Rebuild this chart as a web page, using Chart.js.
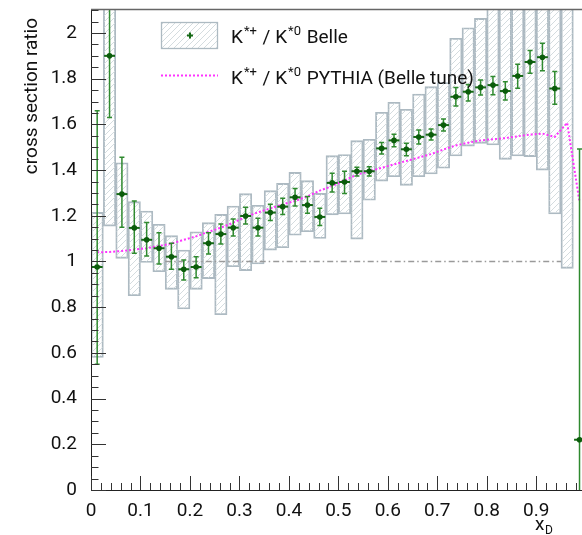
<!DOCTYPE html>
<html lang="en">
<head>
  <meta charset="UTF-8">
  <title>K*+ / K*0 cross section ratio</title>
  <script src="https://cdn.jsdelivr.net/npm/chart.js"></script>
  <style>
    html, body { margin: 0; padding: 0; background: #fff; }
    #ratioChart { display: block; }
  </style>
</head>
<body>
  <canvas id="ratioChart" width="582" height="535"></canvas>
  <script>
    // x_p bin centres (bin width 0.025)
    const binCenters = [0.0125, 0.0375, 0.0625, 0.0875, 0.1125, 0.1375, 0.1625, 0.1875, 0.2125, 0.2375,
                        0.2625, 0.2875, 0.3125, 0.3375, 0.3625, 0.3875, 0.4125, 0.4375, 0.4625, 0.4875,
                        0.5125, 0.5375, 0.5625, 0.5875, 0.6125, 0.6375, 0.6625, 0.6875, 0.7125, 0.7375,
                        0.7625, 0.7875, 0.8125, 0.8375, 0.8625, 0.8875, 0.9125, 0.9375, 0.9625, 0.9875];
    const xErr = 0.011;

    // Belle measured ratio and statistical error bar ends
    const ratio  = [0.976, 1.90, 1.295, 1.147, 1.095, 1.058, 1.021, 0.966, 0.976, 1.08,
                    1.12, 1.148, 1.199, 1.148, 1.214, 1.24, 1.281, 1.247, 1.195, 1.344,
                    1.348, 1.395, 1.395, 1.495, 1.53, 1.491, 1.545, 1.555, 1.597, 1.721,
                    1.743, 1.762, 1.772, 1.746, 1.812, 1.873, 1.894, 1.757, null, 0.22];
    const statLo = [0.55, 1.63, 1.15, 1.036, 1.024, 0.989, 0.966, 0.919, 0.929, 1.033,
                    1.077, 1.112, 1.164, 1.112, 1.179, 1.206, 1.243, 1.211, 1.158, 1.304,
                    1.298, 1.374, 1.374, 1.47, 1.502, 1.463, 1.514, 1.532, 1.571, 1.68,
                    1.702, 1.729, 1.73, 1.707, 1.758, 1.824, 1.835, 1.688, null, -0.1];
    const statHi = [1.66, 2.3, 1.456, 1.265, 1.171, 1.126, 1.08, 1.007, 1.021, 1.126,
                    1.164, 1.186, 1.237, 1.189, 1.25, 1.277, 1.319, 1.284, 1.233, 1.386,
                    1.395, 1.412, 1.415, 1.521, 1.557, 1.517, 1.575, 1.58, 1.624, 1.762,
                    1.775, 1.794, 1.81, 1.787, 1.863, 1.923, 1.955, 1.831, null, 1.492];

    // systematic boxes
    const boxLo = [0.58, 1.155, 1.014, 0.85, 0.996, 0.955, 0.878, 0.792, 0.878, 0.925,
                   0.767, 0.977, 0.96, 0.989, 1.05, 1.06, 1.115, 1.13, 1.101, 1.204,
                   1.208, 1.098, 1.268, 1.352, 1.371, 1.333, 1.371, 1.383, 1.408, 1.462,
                   1.505, 1.517, 1.51, 1.447, 1.462, 1.459, 1.40, 1.208, 0.97, null];
    const boxHi = [1.215, 2.3, 1.432, 1.262, 1.221, 1.163, 1.113, 1.05, 1.13, 1.17,
                   1.206, 1.243, 1.297, 1.246, 1.31, 1.342, 1.39, 1.354, 1.298, 1.463,
                   1.468, 1.529, 1.535, 1.653, 1.697, 1.666, 1.733, 1.765, 1.783, 1.977,
                   2.023, 2.064, 2.3, 2.3, 2.3, 2.3, 2.3, 2.3, 2.3, null];

    // PYTHIA (Belle tune) prediction at bin centres
    const pythia = [1.04, 1.042, 1.046, 1.052, 1.058, 1.068, 1.078, 1.095, 1.11, 1.13,
                    1.148, 1.17, 1.195, 1.215, 1.232, 1.25, 1.265, 1.285, 1.31, 1.33,
                    1.355, 1.38, 1.395, 1.41, 1.425, 1.44, 1.455, 1.47, 1.49, 1.508,
                    1.52, 1.53, 1.535, 1.54, 1.548, 1.555, 1.56, 1.545, 1.607, 1.26];

    // reference line at ratio = 1
    const unityX = [0.15, 0.95];
    const unityY = [1, 1];

    const xTicks = [0, 0.1, 0.2, 0.3, 0.4, 0.5, 0.6, 0.7, 0.8, 0.9];
    const yTicks = [0, 0.2, 0.4, 0.6, 0.8, 1, 1.2, 1.4, 1.6, 1.8, 2];

    const FONT = "Roboto, 'Liberation Sans', sans-serif";
    const BOX_BORDER = "#adbac2";

    function makeHatch() {
      const c = document.createElement("canvas");
      c.width = 6; c.height = 6;
      const g = c.getContext("2d");
      g.strokeStyle = "#d4dcdf";
      g.lineWidth = 1;
      g.beginPath();
      g.moveTo(0, 6); g.lineTo(6, 0);
      g.moveTo(-1, 1); g.lineTo(1, -1);
      g.moveTo(5, 7); g.lineTo(7, 5);
      g.stroke();
      return g.createPattern(c, "repeat");
    }
    const hatch = makeHatch();

    const pointData = [];
    binCenters.forEach((c, i) => { if (ratio[i] !== null) pointData.push({ x: c, y: ratio[i] }); });
    const boxData = [];
    binCenters.forEach((c, i) => { if (boxLo[i] !== null) boxData.push({ x: c, y: [boxLo[i], boxHi[i]] }); });
    const pythiaData = binCenters.map((c, i) => ({ x: c, y: pythia[i] }));
    const unityData = unityX.map((v, i) => ({ x: v, y: unityY[i] }));

    function noPad(s) {
      s.paddingTop = 0; s.paddingBottom = 0;
      s.paddingLeft = 0; s.paddingRight = 0;
    }

    // stat error bars, drawn just before the markers
    const errorBars = {
      id: "errorBars",
      beforeDatasetDraw(chart, args) {
        if (args.index !== 0) return;
        const { ctx, chartArea: a, scales: { x, y } } = chart;
        ctx.save();
        ctx.beginPath();
        ctx.rect(a.left, a.top, a.right - a.left, a.bottom - a.top);
        ctx.clip();
        binCenters.forEach((c, i) => {
          if (ratio[i] === null) return;
          const px = x.getPixelForValue(c);
          const py = y.getPixelForValue(ratio[i]);
          const top = y.getPixelForValue(statHi[i]);
          const bot = y.getPixelForValue(statLo[i]);
          ctx.strokeStyle = "#2f8a2f";
          ctx.lineWidth = 1.5;
          ctx.beginPath();
          ctx.moveTo(px, top); ctx.lineTo(px, bot);
          ctx.moveTo(px - 2.5, top); ctx.lineTo(px + 2.5, top);
          ctx.moveTo(px - 2.5, bot); ctx.lineTo(px + 2.5, bot);
          ctx.stroke();
          ctx.strokeStyle = "#146914";
          ctx.lineWidth = 2;
          ctx.beginPath();
          ctx.moveTo(x.getPixelForValue(c - xErr), py);
          ctx.lineTo(x.getPixelForValue(c + xErr), py);
          ctx.stroke();
        });
        ctx.restore();
      }
    };

    function drawKLabel(ctx, x0, base, tail) {
      const big = "19px " + FONT, small = "13px " + FONT;
      let x = x0;
      const put = (txt, font, dy, gap) => {
        ctx.font = font;
        ctx.fillText(txt, x, base + dy);
        x += ctx.measureText(txt).width + (gap || 0);
      };
      put("K", big, 0, 1);
      put("*+", small, -8, 1);
      put(" / K", big, 0, 1);
      put("*0", small, -8, 1);
      put(" " + tail, big, 0);
    }

    // ROOT-like frame, inward ticks, titles and legend
    const frame = {
      id: "frame",
      afterDraw(chart) {
        const { ctx, chartArea: a, scales: { x, y } } = chart;
        ctx.save();
        ctx.strokeStyle = "#222";
        ctx.lineWidth = 1;
        ctx.beginPath();
        ctx.moveTo(a.left + 0.5, a.top); ctx.lineTo(a.left + 0.5, a.bottom + 1);
        ctx.moveTo(a.left, a.bottom + 0.5); ctx.lineTo(a.right, a.bottom + 0.5);
        ctx.stroke();
        ctx.strokeStyle = "#666";
        ctx.lineWidth = 1.5;
        ctx.beginPath();
        ctx.moveTo(a.left, a.top + 0.5); ctx.lineTo(a.right, a.top + 0.5);
        ctx.stroke();

        ctx.strokeStyle = "#333";
        ctx.lineWidth = 1;
        ctx.beginPath();
        for (let i = 0; i <= 42; i++) {
          const py = Math.round(y.getPixelForValue(i * 0.05)) + 0.5;
          const len = i % 4 === 0 ? 15 : 7.5;
          ctx.moveTo(a.left, py); ctx.lineTo(a.left + len, py);
        }
        for (let i = 0; i <= 49; i++) {
          const px = Math.round(x.getPixelForValue(i * 0.02)) + 0.5;
          if (px > a.right) break;
          const len = i % 5 === 0 ? 14 : 7;
          ctx.moveTo(px, a.bottom); ctx.lineTo(px, a.bottom - len);
        }
        ctx.stroke();

        // axis titles
        ctx.fillStyle = "#111";
        ctx.font = "19px " + FONT;
        ctx.save();
        ctx.translate(37, 18);
        ctx.rotate(-Math.PI / 2);
        ctx.textAlign = "right";
        ctx.textBaseline = "alphabetic";
        ctx.fillText("cross section ratio", 0, 0);
        ctx.restore();
        ctx.textAlign = "left";
        ctx.textBaseline = "alphabetic";
        ctx.fillText("x", 535, 530);
        ctx.font = "12px " + FONT;
        ctx.fillText("D", 545, 534);

        // legend
        ctx.fillStyle = "#fff";
        ctx.fillRect(161, 22, 57, 27);
        ctx.fillStyle = hatch;
        ctx.fillRect(161, 22, 57, 27);
        ctx.strokeStyle = BOX_BORDER;
        ctx.lineWidth = 1.3;
        ctx.strokeRect(161.5, 22.5, 56, 26);
        ctx.strokeStyle = "#146914";
        ctx.lineWidth = 2;
        ctx.beginPath();
        ctx.moveTo(187, 35.5); ctx.lineTo(193, 35.5);
        ctx.moveTo(190, 32.5); ctx.lineTo(190, 38.5);
        ctx.stroke();
        ctx.strokeStyle = "#ff33ff";
        ctx.setLineDash([2, 2]);
        ctx.beginPath();
        ctx.moveTo(161, 75.5); ctx.lineTo(218, 75.5);
        ctx.stroke();
        ctx.setLineDash([]);
        ctx.fillStyle = "#111";
        drawKLabel(ctx, 231, 43, "Belle");
        drawKLabel(ctx, 231, 84, "PYTHIA (Belle tune)");
        ctx.restore();
      }
    };

    new Chart(document.getElementById("ratioChart"), {
      data: {
        datasets: [
          {
            type: "scatter",
            data: pointData,
            pointStyle: "circle",
            pointRadius: 2.8,
            backgroundColor: "#0b5c0b",
            borderColor: "#0b5c0b",
            borderWidth: 0,
            order: 0
          },
          {
            type: "line",
            data: pythiaData,
            borderColor: "#ff33ff",
            borderWidth: 2,
            borderDash: [2, 2],
            pointRadius: 0,
            fill: false,
            tension: 0,
            order: 1
          },
          {
            type: "line",
            data: unityData,
            borderColor: "#9a9a9a",
            borderWidth: 1.3,
            borderDash: [6, 3, 1.5, 3],
            pointRadius: 0,
            fill: false,
            order: 2
          },
          {
            type: "bar",
            data: boxData,
            backgroundColor: hatch,
            borderColor: BOX_BORDER,
            borderWidth: 1.2,
            borderSkipped: false,
            barPercentage: 1,
            categoryPercentage: 1,
            order: 3
          }
        ]
      },
      options: {
        responsive: false,
        animation: false,
        layout: { autoPadding: false, padding: { top: 9, right: 0, left: 0, bottom: 0 } },
        plugins: {
          legend: { display: false },
          tooltip: { enabled: false }
        },
        scales: {
          x: {
            type: "linear",
            min: 0,
            max: 0.9925,
            offset: false,
            grid: { display: false },
            border: { display: false },
            afterBuildTicks: s => { s.ticks = xTicks.map(v => ({ value: v })); },
            afterFit: s => { s.height = 45; noPad(s); },
            ticks: {
              autoSkip: false,
              maxRotation: 0,
              padding: 2,
              color: "#111",
              font: { family: FONT, size: 19 },
              callback: v => String(v)
            }
          },
          y: {
            type: "linear",
            min: 0,
            max: 2.105,
            grid: { display: false },
            border: { display: false },
            afterBuildTicks: s => { s.ticks = yTicks.map(v => ({ value: v })); },
            afterFit: s => { s.width = 91; noPad(s); },
            ticks: {
              autoSkip: false,
              padding: 6,
              color: "#111",
              font: { family: FONT, size: 19 },
              callback: v => String(v)
            }
          }
        }
      },
      plugins: [errorBars, frame]
    });
  </script>
</body>
</html>
